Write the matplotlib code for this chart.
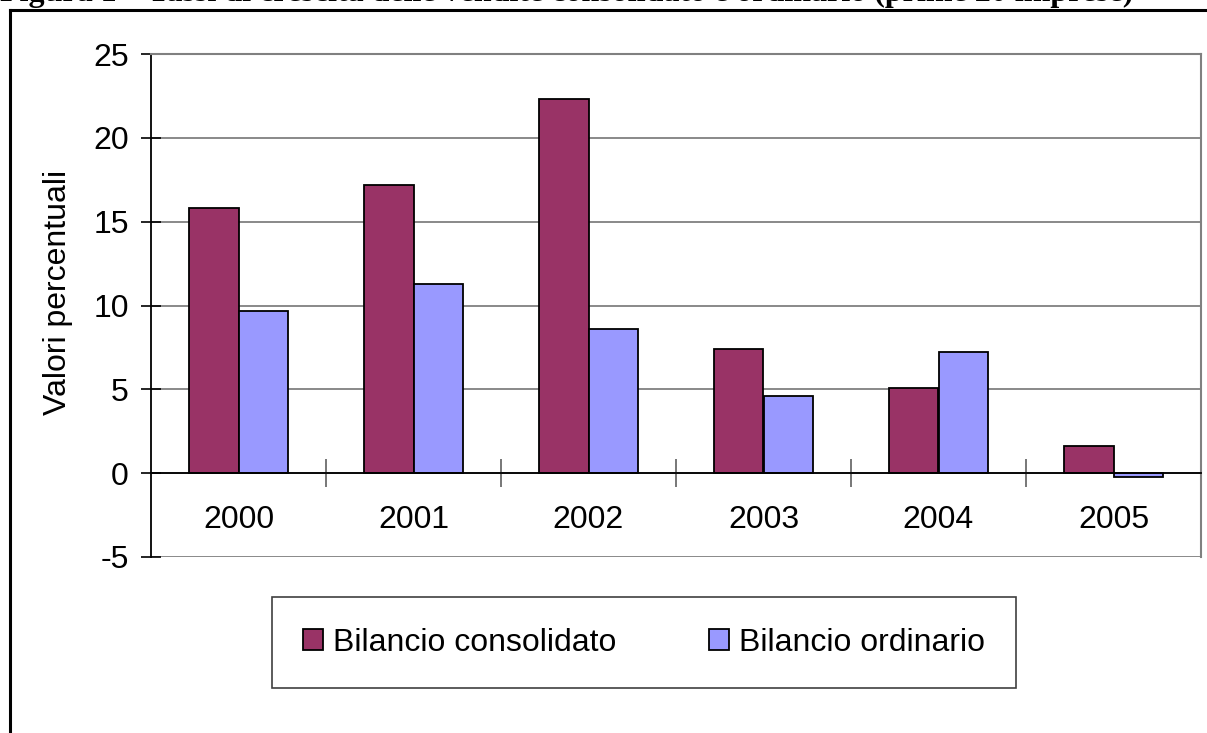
import numpy as np
import matplotlib.pyplot as plt
from matplotlib.patches import Rectangle
from matplotlib.lines import Line2D

anni = ['2000', '2001', '2002', '2003', '2004', '2005']
consolidato = [15.8, 17.2, 22.3, 7.4, 5.1, 1.6]
ordinario = [9.7, 11.3, 8.6, 4.6, 7.2, -0.2]
serie = ['Bilancio consolidato', 'Bilancio ordinario']
titolo = 'Figura 1 – Tassi di crescita delle vendite consolidato e ordinario (prime 20 imprese)'

col_cons = '#993366'
col_ord = '#9999FF'

W, H = 1207, 733
plt.rcParams['font.family'] = ['Liberation Sans', 'DejaVu Sans']
plt.rcParams['axes.unicode_minus'] = False
fs = 23

fig = plt.figure(figsize=(W / 100, H / 100), dpi=100)

# titolo tagliato in alto e cornice esterna
fig.text(0.0, 1 - 1.5 / H, titolo, family=['Liberation Serif', 'DejaVu Serif'],
         weight='bold', fontsize=23, va='baseline', ha='left')
fig.add_artist(Line2D([10 / W, 1], [1 - 10 / H, 1 - 10 / H], color='black', lw=2.2))
fig.add_artist(Line2D([10 / W, 10 / W], [0, 1 - 10 / H], color='black', lw=2.2))

ax = fig.add_axes([151 / W, (H - 557) / H, 1050 / W, 503 / H])

x = np.arange(len(anni))
w = 0.2857
b1 = ax.bar(x - w / 2, consolidato, w, color=col_cons, edgecolor='black', lw=1.3, zorder=3)
b2 = ax.bar(x + w / 2, ordinario, w, color=col_ord, edgecolor='black', lw=1.3, zorder=3)

ax.set_xlim(-0.5, len(anni) - 0.5)
ax.set_ylim(-5, 25)
ax.set_yticks(np.arange(-5, 26, 5))
ax.yaxis.grid(True, color='#808080', lw=1.3, zorder=0)
ax.tick_params(axis='y', direction='inout', length=14, width=1.2, labelsize=fs, pad=9)

# asse x sulla linea dello zero
ax.spines['bottom'].set_position(('data', 0))
ax.spines['bottom'].set_color('black')
ax.spines['bottom'].set_linewidth(1.3)
ax.spines['bottom'].set_zorder(4)
ax.set_xticks(np.arange(0.5, len(anni) - 0.5, 1))
ax.set_xticklabels([])
ax.tick_params(axis='x', which='major', direction='inout', length=20, width=1.2, color='#606060')
ax.set_xticks(x, minor=True)
ax.set_xticklabels(anni, minor=True)
ax.tick_params(axis='x', which='minor', length=0, labelsize=fs, pad=23)

ax.spines['left'].set_linewidth(1.3)
for s in ['top', 'right']:
    ax.spines[s].set_color('#808080')
    ax.spines[s].set_linewidth(1.5)

ax.set_ylabel('Valori percentuali', fontsize=fs)
ax.yaxis.set_label_coords(-0.074, 0.525)

# legenda
fig.add_artist(Rectangle((272 / W, 1 - 688 / H), 744 / W, 91 / H, transform=fig.transFigure,
                         fill=False, edgecolor='#404040', lw=1.2))
fig.legend([b1, b2], serie, loc='center left', bbox_to_anchor=(303 / W, 1 - 643 / H),
           ncol=2, frameon=False, fontsize=fs, handlelength=0.63, handleheight=0.63,
           handletextpad=0.31, columnspacing=2.9, borderpad=0, borderaxespad=0)

plt.savefig('out.png', dpi=100)
